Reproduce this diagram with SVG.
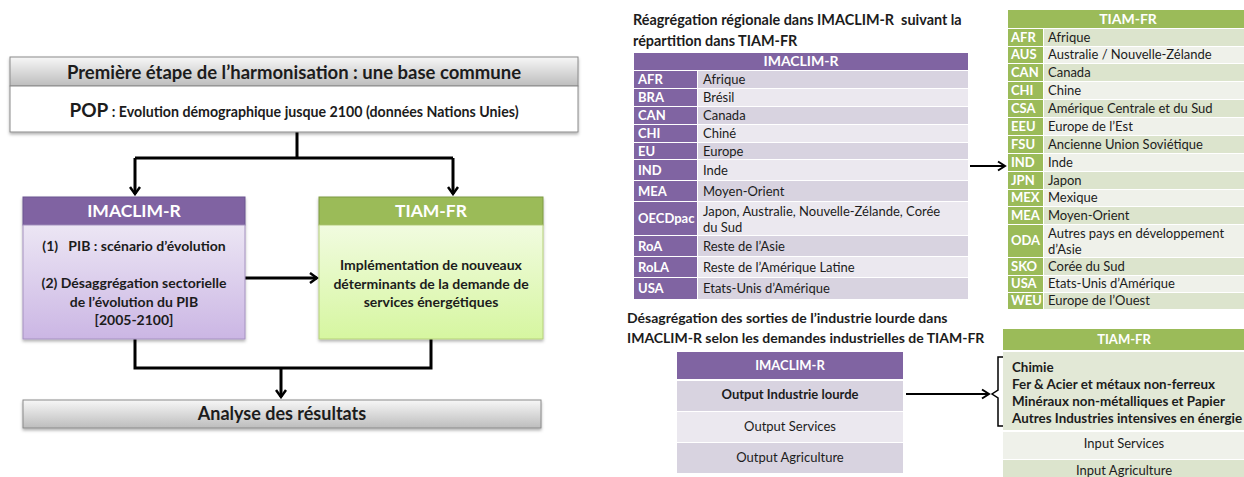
<svg xmlns="http://www.w3.org/2000/svg" width="1244" height="477" viewBox="0 0 1244 477">
<style>
text{font-family:Lato,"Liberation Sans",sans-serif;fill:#1c1c1c}
.b{font-weight:bold}
.w{fill:#fff;font-weight:bold}
.c{text-anchor:middle}
.frame{stroke:#8a8a8a;stroke-width:1}
.conn{fill:none;stroke:#000;stroke-width:3}
.thin{fill:none;stroke:#000;stroke-width:2}
.pc{fill:#8064a2}
.gc{fill:#9bbb59}
.pd{fill:#d8d3e0}
.pl{fill:#ebe8ef}
.gd{fill:#dce4cd}
.gl{fill:#eff1ea}
.t13{font-size:13px}
</style>
<defs>
<linearGradient id="gray" x1="0" y1="0" x2="0" y2="1"><stop offset="0" stop-color="#f7f7f7"/><stop offset="1" stop-color="#bdbdbd"/></linearGradient>
<linearGradient id="lav" x1="0" y1="0" x2="0" y2="1"><stop offset="0" stop-color="#ece6f4"/><stop offset="1" stop-color="#cbb6e4"/></linearGradient>
<linearGradient id="lime" x1="0" y1="0" x2="0" y2="1"><stop offset="0" stop-color="#f1fbe0"/><stop offset="1" stop-color="#d6f6a0"/></linearGradient>
<filter id="sh" x="-5%" y="-10%" width="110%" height="130%"><feDropShadow dx="0" dy="2" stdDeviation="1.5" flood-color="#000" flood-opacity="0.3"/></filter>
<marker id="ah" markerWidth="10" markerHeight="12" refX="8" refY="6" orient="auto" markerUnits="userSpaceOnUse"><path d="M1,1 L8,6 L1,11" fill="none" stroke="#000" stroke-width="2.5"/></marker>
<marker id="ahs" markerWidth="10" markerHeight="12" refX="8" refY="6" orient="auto" markerUnits="userSpaceOnUse"><path d="M1,1.5 L8,6 L1,10.5" fill="none" stroke="#000" stroke-width="2"/></marker>
</defs>

<g id="connectors">
<path class="conn" d="M297,132 V158 M135,158 H453"/>
<path class="conn" d="M135,158 V194" marker-end="url(#ah)"/>
<path class="conn" d="M453,158 V194" marker-end="url(#ah)"/>
<path class="conn" d="M245,278 H317" marker-end="url(#ah)"/>
<path class="conn" d="M135,339 V368 H431 V339"/>
<path class="conn" d="M281,368 V397" marker-end="url(#ah)"/>
<path class="thin" d="M970,166 H1005" marker-end="url(#ahs)"/>
<path class="thin" d="M906,394 H989" marker-end="url(#ahs)"/>
<path fill="none" stroke="#000" stroke-width="1.5" d="M1004,357 H998 V390 L992,394 L998,398 V426 H1004"/>
</g>

<g id="base-commune" filter="url(#sh)">
<rect x="10" y="57" width="568" height="29" fill="url(#gray)" class="frame"/>
<rect x="10" y="86" width="568" height="46" fill="#fff" class="frame"/>
</g>
<g id="base-commune-text">
<text x="294" y="79" class="b c" font-size="18.5">Première étape de l’harmonisation : une base commune</text>
<text x="294" y="117" class="b c" font-size="14.2"><tspan font-size="19">POP</tspan> : Evolution démographique jusque 2100 (données Nations Unies)</text>
</g>

<g id="imaclim">
<g filter="url(#sh)">
<rect x="23" y="197" width="222" height="28" class="pc" stroke="#6b5290"/>
<rect x="23" y="225" width="222" height="114" fill="url(#lav)" stroke="#a592c0"/>
</g>
<text x="134" y="217" class="w c" font-size="17.5">IMACLIM-R</text>
<text x="134" y="251" class="b c" font-size="14" xml:space="preserve">(1)   PIB : scénario d’évolution</text>
<text x="134" y="288" class="b c" font-size="14">(2) Désaggrégation sectorielle</text>
<text x="134" y="307" class="b c" font-size="14">de l’évolution du PIB</text>
<text x="134" y="325" class="b c" font-size="14">[2005-2100]</text>
</g>

<g id="tiam">
<g filter="url(#sh)">
<rect x="319" y="197" width="224" height="28" class="gc" stroke="#7f9a45"/>
<rect x="319" y="225" width="224" height="114" fill="url(#lime)" stroke="#b6d07a"/>
</g>
<text x="431" y="217" class="w c" font-size="17.5">TIAM-FR</text>
<text x="431" y="270" class="b c" font-size="14">Implémentation de nouveaux</text>
<text x="431" y="289" class="b c" font-size="14">déterminants de la demande de</text>
<text x="431" y="307" class="b c" font-size="14">services énergétiques</text>
</g>

<g id="analyse">
<rect x="23" y="400" width="518" height="28" fill="url(#gray)" class="frame" filter="url(#sh)"/>
<text x="282" y="420" class="b c" font-size="18">Analyse des résultats</text>
</g>

<g id="titre-regions">
<text x="633" y="25" class="b" font-size="14.4" xml:space="preserve">Réagrégation régionale dans IMACLIM-R  suivant la</text>
<text x="633" y="46" class="b" font-size="14.4">répartition dans TIAM-FR</text>
</g>

<g id="table-imaclim-regions" class="t13">
<rect x="634" y="53" width="334" height="17" class="pc"/>
<text x="801" y="66" class="w c" font-size="14">IMACLIM-R</text>
<rect x="634" y="71" width="63" height="17" class="pc"/><rect x="698" y="71" width="270" height="17" class="pd"/>
<text x="638" y="84" class="w">AFR</text><text x="703" y="84">Afrique</text>
<rect x="634" y="89" width="63" height="17" class="pc"/><rect x="698" y="89" width="270" height="17" class="pl"/>
<text x="638" y="102" class="w">BRA</text><text x="703" y="102">Brésil</text>
<rect x="634" y="107" width="63" height="17" class="pc"/><rect x="698" y="107" width="270" height="17" class="pd"/>
<text x="638" y="120" class="w">CAN</text><text x="703" y="120">Canada</text>
<rect x="634" y="125" width="63" height="17" class="pc"/><rect x="698" y="125" width="270" height="17" class="pl"/>
<text x="638" y="138" class="w">CHI</text><text x="703" y="138">Chiné</text>
<rect x="634" y="143" width="63" height="16" class="pc"/><rect x="698" y="143" width="270" height="16" class="pd"/>
<text x="638" y="156" class="w">EU</text><text x="703" y="156">Europe</text>
<rect x="634" y="160" width="63" height="20" class="pc"/><rect x="698" y="160" width="270" height="20" class="pl"/>
<text x="638" y="175" class="w">IND</text><text x="703" y="175">Inde</text>
<rect x="634" y="181" width="63" height="20" class="pc"/><rect x="698" y="181" width="270" height="20" class="pd"/>
<text x="638" y="196" class="w">MEA</text><text x="703" y="196">Moyen-Orient</text>
<rect x="634" y="202" width="63" height="33" class="pc"/><rect x="698" y="202" width="270" height="33" class="pl"/>
<text x="638" y="223" class="w">OECDpac</text><text x="703" y="216">Japon, Australie, Nouvelle-Zélande, Corée</text><text x="703" y="232">du Sud</text>
<rect x="634" y="236" width="63" height="20" class="pc"/><rect x="698" y="236" width="270" height="20" class="pd"/>
<text x="638" y="251" class="w">RoA</text><text x="703" y="251">Reste de l’Asie</text>
<rect x="634" y="257" width="63" height="20" class="pc"/><rect x="698" y="257" width="270" height="20" class="pl"/>
<text x="638" y="272" class="w">RoLA</text><text x="703" y="272">Reste de l’Amérique Latine</text>
<rect x="634" y="278" width="63" height="21" class="pc"/><rect x="698" y="278" width="270" height="21" class="pd"/>
<text x="638" y="293" class="w">USA</text><text x="703" y="293">Etats-Unis d’Amérique</text>
</g>

<g id="table-tiam-regions" class="t13">
<rect x="1008" y="10" width="236" height="18" class="gc"/>
<text x="1128" y="24" class="w c" font-size="14">TIAM-FR</text>
<rect x="1008" y="29" width="35" height="17" class="gc"/><rect x="1044" y="29" width="200" height="17" class="gd"/>
<text x="1011" y="42" class="w">AFR</text><text x="1048" y="42">Afrique</text>
<rect x="1008" y="47" width="35" height="16" class="gc"/><rect x="1044" y="47" width="200" height="16" class="gl"/>
<text x="1011" y="59" class="w">AUS</text><text x="1048" y="59">Australie / Nouvelle-Zélande</text>
<rect x="1008" y="64" width="35" height="17" class="gc"/><rect x="1044" y="64" width="200" height="17" class="gd"/>
<text x="1011" y="77" class="w">CAN</text><text x="1048" y="77">Canada</text>
<rect x="1008" y="82" width="35" height="17" class="gc"/><rect x="1044" y="82" width="200" height="17" class="gl"/>
<text x="1011" y="95" class="w">CHI</text><text x="1048" y="95">Chine</text>
<rect x="1008" y="100" width="35" height="17" class="gc"/><rect x="1044" y="100" width="200" height="17" class="gd"/>
<text x="1011" y="113" class="w">CSA</text><text x="1048" y="113">Amérique Centrale et du Sud</text>
<rect x="1008" y="118" width="35" height="17" class="gc"/><rect x="1044" y="118" width="200" height="17" class="gl"/>
<text x="1011" y="131" class="w">EEU</text><text x="1048" y="131">Europe de l’Est</text>
<rect x="1008" y="136" width="35" height="17" class="gc"/><rect x="1044" y="136" width="200" height="17" class="gd"/>
<text x="1011" y="149" class="w">FSU</text><text x="1048" y="149">Ancienne Union Soviétique</text>
<rect x="1008" y="154" width="35" height="17" class="gc"/><rect x="1044" y="154" width="200" height="17" class="gl"/>
<text x="1011" y="167" class="w">IND</text><text x="1048" y="167">Inde</text>
<rect x="1008" y="172" width="35" height="17" class="gc"/><rect x="1044" y="172" width="200" height="17" class="gd"/>
<text x="1011" y="185" class="w">JPN</text><text x="1048" y="185">Japon</text>
<rect x="1008" y="190" width="35" height="16" class="gc"/><rect x="1044" y="190" width="200" height="16" class="gl"/>
<text x="1011" y="202" class="w">MEX</text><text x="1048" y="202">Mexique</text>
<rect x="1008" y="207" width="35" height="17" class="gc"/><rect x="1044" y="207" width="200" height="17" class="gd"/>
<text x="1011" y="220" class="w">MEA</text><text x="1048" y="220">Moyen-Orient</text>
<rect x="1008" y="225" width="35" height="32" class="gc"/><rect x="1044" y="225" width="200" height="32" class="gl"/>
<text x="1011" y="245" class="w">ODA</text><text x="1048" y="238">Autres pays en développement</text><text x="1048" y="254">d’Asie</text>
<rect x="1008" y="258" width="35" height="17" class="gc"/><rect x="1044" y="258" width="200" height="17" class="gd"/>
<text x="1011" y="271" class="w">SKO</text><text x="1048" y="271">Corée du Sud</text>
<rect x="1008" y="276" width="35" height="16" class="gc"/><rect x="1044" y="276" width="200" height="16" class="gl"/>
<text x="1011" y="288" class="w">USA</text><text x="1048" y="288">Etats-Unis d’Amérique</text>
<rect x="1008" y="293" width="35" height="16" class="gc"/><rect x="1044" y="293" width="200" height="16" class="gd"/>
<text x="1011" y="305" class="w">WEU</text><text x="1048" y="305">Europe de l’Ouest</text>
</g>

<g id="titre-industrie">
<text x="627" y="323" class="b" font-size="14">Désagrégation des sorties de l’industrie lourde dans</text>
<text x="627" y="343" class="b" font-size="14">IMACLIM-R selon les demandes industrielles de TIAM-FR</text>
</g>

<g id="table-imaclim-outputs" class="t13">
<rect x="677" y="352" width="226" height="27" class="pc"/>
<text x="790" y="370" class="w c">IMACLIM-R</text>
<rect x="677" y="381" width="226" height="30" class="pd"/>
<text x="790" y="399" class="b c">Output Industrie lourde</text>
<rect x="677" y="412" width="226" height="30" class="pl"/>
<text x="790" y="431" class="c">Output Services</text>
<rect x="677" y="443" width="226" height="30" class="pd"/>
<text x="790" y="462" class="c">Output Agriculture</text>
</g>

<g id="table-tiam-inputs" class="t13">
<rect x="1003" y="329" width="241" height="21" class="gc"/>
<text x="1124" y="344" class="w c">TIAM-FR</text>
<rect x="1003" y="352" width="241" height="78" fill="#e2e8d6"/>
<text x="1012" y="372" class="b" font-size="13.4">Chimie</text>
<text x="1012" y="389" class="b" font-size="13.4">Fer &amp; Acier et métaux non-ferreux</text>
<text x="1012" y="406" class="b" font-size="13.4">Minéraux non-métalliques et Papier</text>
<text x="1012" y="423" class="b" font-size="13.4">Autres Industries intensives en énergie</text>
<rect x="1003" y="432" width="241" height="27" class="gl"/>
<text x="1124" y="448" class="c">Input Services</text>
<rect x="1003" y="460" width="241" height="17" class="gd"/>
<text x="1124" y="475" class="c">Input Agriculture</text>
</g>
</svg>
